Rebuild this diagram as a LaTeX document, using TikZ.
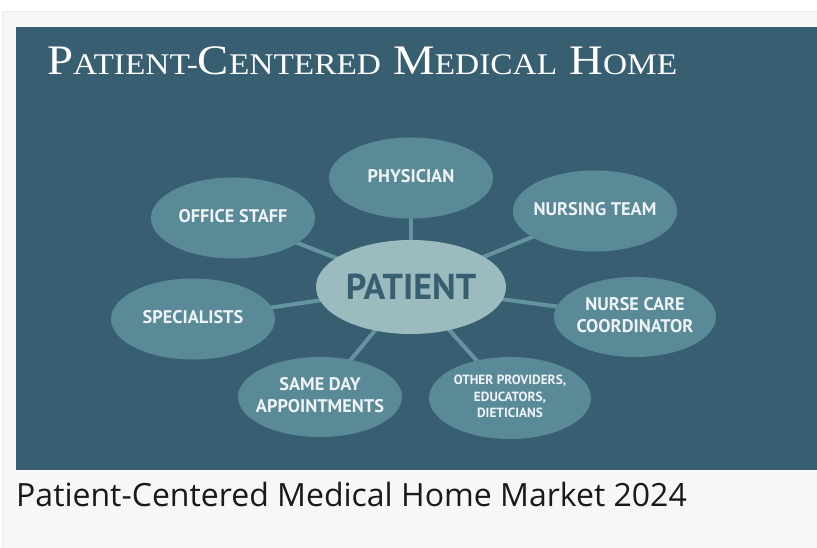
\documentclass[tikz,border=0pt]{standalone}
\usepackage{fontspec}
\usepackage{graphicx}
\setmainfont{Liberation Serif}
\newfontfamily\boxfont{PT Sans}
\newfontfamily\capfont{Open Sans}
\usetikzlibrary{shapes.geometric}
\pgfdeclarelayer{bg}
\pgfdeclarelayer{lines}
\pgfsetlayers{bg,lines,main}
\definecolor{panel}{HTML}{F7F7F7}
\definecolor{dark}{HTML}{375F71}
\definecolor{outer}{HTML}{5A8A98}
\definecolor{inner}{HTML}{9BBBBE}
\definecolor{link}{HTML}{6594A1}
\definecolor{txt}{HTML}{EEF3F4}
\newcommand{\tlbig}[1]{{\fontsize{42}{42}\selectfont #1}}
\newcommand{\tlsmall}[1]{{\fontsize{30}{30}\selectfont #1}}
\newcommand{\lbl}[1]{\raisebox{-2pt}{\makebox[0pt][c]{\renewcommand{\arraystretch}{1}\begin{tabular}{@{}c@{}}#1\end{tabular}}}}
\tikzset{
  petal/.style={ellipse, fill=outer, draw=none, inner sep=0pt, minimum width=164pt, minimum height=81pt,
    text=txt, font=\boxfont\bfseries\fontsize{18.3}{22}\selectfont},
  hub/.style={ellipse, fill=inner, draw=none, inner sep=0pt, minimum width=190pt, minimum height=94pt,
    text=dark, font=\boxfont\bfseries\fontsize{36}{36}\selectfont},
  spoke/.style={draw=link, line width=4pt}
}
\begin{document}
\begin{tikzpicture}[x=1pt,y=-1pt]
\useasboundingbox (0,0) rectangle (817,548);
\begin{pgfonlayer}{bg}
\fill[white] (0,0) rectangle (817,548);
\fill[panel, draw=black!8, line width=1pt] (2.5,12) rectangle (830,560);
\fill[dark] (16,27) rectangle (817,470);
\end{pgfonlayer}
\node[anchor=base west, text=white, inner sep=0pt] (title) at (47,75)
  {\resizebox{630pt}{\height}{\tlbig{P}\tlsmall{ATIENT-}\tlbig{C}\tlsmall{ENTERED}\hspace{11pt}\tlbig{M}\tlsmall{EDICAL}\hspace{11pt}\tlbig{H}\tlsmall{OME}}};
\node[hub] (pat) at (411,287) {PATIENT};
\node[petal] (phy) at (411,178) {\lbl{PHYSICIAN}};
\node[petal] (off) at (233,218) {\lbl{OFFICE STAFF}};
\node[petal] (nur) at (595,211) {\lbl{NURSING TEAM}};
\node[petal] (spe) at (193,319) {\lbl{SPECIALISTS}};
\node[petal, minimum width=162pt, minimum height=80pt] (ncc) at (635,317) {\lbl{NURSE CARE\\COORDINATOR}};
\node[petal, minimum width=164pt, minimum height=80pt] (sda) at (320,397) {\lbl{SAME DAY\\APPOINTMENTS}};
\node[petal, minimum width=162pt, minimum height=82pt, font=\boxfont\bfseries\fontsize{13.3}{16.5}\selectfont] (oth) at (510,398) {\lbl{OTHER PROVIDERS,\\EDUCATORS,\\DIETICIANS}};
\begin{pgfonlayer}{lines}
\foreach \n in {phy,off,nur,spe,ncc,sda,oth} \draw[spoke] (pat.center) -- (\n.center);
\end{pgfonlayer}
\node[anchor=base west, inner sep=0pt, text=black!90, font=\capfont\fontsize{32}{32}\selectfont] (cap) at (16,506) {Patient-Centered Medical Home Market 2024};
\end{tikzpicture}
\end{document}
